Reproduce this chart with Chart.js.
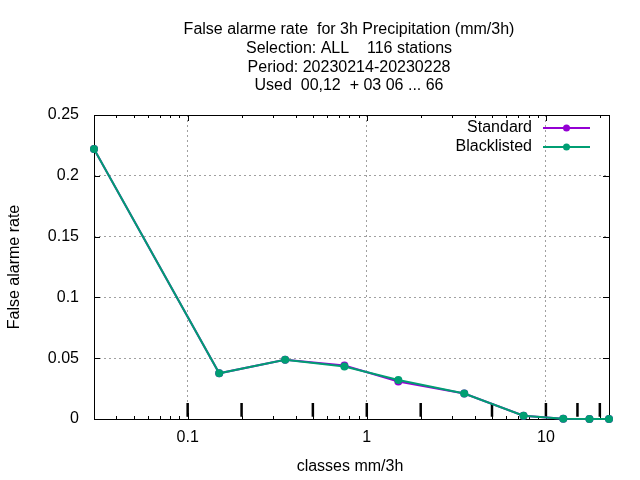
<!DOCTYPE html>
<html>
<head>
<meta charset="utf-8">
<script src="https://cdn.jsdelivr.net/npm/chart.js@4"></script>
<style>
html,body{margin:0;padding:0;background:#fff;}
#wrap{width:640px;height:480px;}
</style>
</head>
<body>
<div id="wrap"><canvas id="c" width="640" height="480"></canvas></div>
<script>
const titleLines = [
  "False alarme rate  for 3h Precipitation (mm/3h)",
  "Selection: ALL    116 stations",
  "Period: 20230214-20230228",
  "Used  00,12  + 03 06 ... 66"
];
const xTitle = "classes mm/3h";
const yTitle = "False alarme rate";
const classes = [0.03, 0.15, 0.35, 0.75, 1.5, 3.5, 7.5, 12.5, 17.5, 22.5];
const standard = [0.222, 0.0376, 0.0488, 0.0440, 0.0308, 0.0210, 0.0027, 0.0003, 0, 0];
const blacklisted = [0.222, 0.0376, 0.0488, 0.0432, 0.0320, 0.0210, 0.0027, 0.0003, 0, 0];
const boundaries = [0.1, 0.2, 0.5, 1, 2, 5, 10, 15, 20];
const boundaryLow = 0.0019;
const boundaryHigh = 0.0132;
const xMajorTicks = [0.1, 1, 10];
const yTicks = [0, 0.05, 0.1, 0.15, 0.2, 0.25];
const seriesNames = ["Standard", "Blacklisted"];

const FONT = "Liberation Sans, Arial, sans-serif";
const colStd = "#9400d3";
const colBl = "#009e73";

function pts(xs, ys){ return xs.map((x,i)=>({x:x, y:ys[i]})); }
const boundaryData = [];
boundaries.forEach(b=>{
  boundaryData.push({x:b, y:boundaryLow});
  boundaryData.push({x:b, y:boundaryHigh});
  boundaryData.push({x:b, y:null});
});

const framePlugin = {
  id: 'frame',
  beforeDraw(chart){
    const ctx = chart.ctx;
    ctx.save();
    ctx.fillStyle = '#fff';
    ctx.fillRect(0,0,chart.width,chart.height);
    ctx.restore();
  },
  beforeDatasetsDraw(chart){
    const ctx = chart.ctx, a = chart.chartArea;
    const xs = chart.scales.x, ys = chart.scales.y;
    ctx.save();
    ctx.strokeStyle = '#000';
    ctx.lineWidth = 1;
    ctx.strokeRect(Math.round(a.left)+0.5, Math.round(a.top)+0.5, Math.round(a.right-a.left), Math.round(a.bottom-a.top));
    ctx.beginPath();
    const minor = [];
    for (let d = -2; d <= 1; d++) {
      for (let m = 2; m <= 9; m++) {
        const v = m * Math.pow(10, d);
        if (v > xs.min && v < xs.max) minor.push(v);
      }
    }
    xMajorTicks.forEach(v=>{
      const px = Math.round(xs.getPixelForValue(v))+0.5;
      ctx.moveTo(px, a.bottom); ctx.lineTo(px, a.bottom-6);
      ctx.moveTo(px, a.top); ctx.lineTo(px, a.top+6);
    });
    minor.forEach(v=>{
      const px = Math.round(xs.getPixelForValue(v))+0.5;
      ctx.moveTo(px, a.bottom); ctx.lineTo(px, a.bottom-3);
      ctx.moveTo(px, a.top); ctx.lineTo(px, a.top+3);
    });
    yTicks.forEach(v=>{
      const py = Math.round(ys.getPixelForValue(v))+0.5;
      ctx.moveTo(a.left, py); ctx.lineTo(a.left+6, py);
      ctx.moveTo(a.right, py); ctx.lineTo(a.right-6, py);
    });
    ctx.stroke();
    ctx.restore();
  },
  afterDraw(chart){
    const ctx = chart.ctx;
    ctx.save();
    ctx.fillStyle = '#000';
    ctx.font = '16px ' + FONT;
    ctx.textAlign = 'center';
    ctx.textBaseline = 'middle';
    titleLines.forEach((t,i)=>{ ctx.fillText(t, 349, 29.5 + i*18.8); });
    ctx.fillText(xTitle, 350, 467);
    ctx.save();
    ctx.translate(15, 267);
    ctx.rotate(-Math.PI/2);
    ctx.fillText(yTitle, 0, 0);
    ctx.restore();
    const cols = [colStd, colBl];
    seriesNames.forEach((n,i)=>{
      const y = 128 + i*19;
      ctx.textAlign = 'right';
      ctx.fillStyle = '#000';
      ctx.fillText(n, 532, y);
      ctx.strokeStyle = cols[i];
      ctx.lineWidth = 2;
      ctx.beginPath(); ctx.moveTo(543, y); ctx.lineTo(590, y); ctx.stroke();
      ctx.fillStyle = cols[i];
      ctx.beginPath(); ctx.arc(566.5, y, 3.5, 0, Math.PI*2); ctx.fill();
    });
    ctx.restore();
  }
};

new Chart(document.getElementById('c'), {
  type: 'scatter',
  data: {
    datasets: [
      { label: seriesNames[0], data: pts(classes, standard), showLine: true,
        borderColor: colStd, backgroundColor: colStd, borderWidth: 2,
        pointRadius: 4, pointBorderWidth: 0, order: 2, clip: false },
      { label: seriesNames[1], data: pts(classes, blacklisted), showLine: true,
        borderColor: colBl, backgroundColor: colBl, borderWidth: 2,
        pointRadius: 4, pointBorderWidth: 0, order: 1, clip: false },
      { label: 'bounds', data: boundaryData, showLine: true, spanGaps: false,
        borderColor: '#000', borderWidth: 2.5, pointRadius: 0, order: 3 }
    ]
  },
  options: {
    responsive: false,
    animation: false,
    events: [],
    layout: { padding: { top: 115, right: 31, left: 0, bottom: 0 } },
    plugins: { legend: { display: false }, title: { display: false }, tooltip: { enabled: false } },
    scales: {
      x: {
        type: 'logarithmic', min: 0.03, max: 22.5,
        afterBuildTicks(s){ s.ticks = xMajorTicks.map(v=>({value:v})); },
        afterFit(s){ s.height = 61; },
        ticks: { font: { family: FONT, size: 16 }, color: '#000', padding: 9, maxRotation: 0,
          callback: (v)=> String(v) },
        grid: { color: '#a0a0a0', lineWidth: 1, drawTicks: false },
        border: { display: false, dash: [2,3] }
      },
      y: {
        min: 0, max: 0.25,
        afterBuildTicks(s){ s.ticks = yTicks.map(v=>({value:v})); },
        afterFit(s){ s.width = 94; },
        ticks: { font: { family: FONT, size: 16 }, color: '#000', padding: 15,
          callback: (v)=> String(v) },
        grid: { color: (c)=> (c.tick && (c.tick.value === 0 || c.tick.value === 0.25)) ? 'rgba(0,0,0,0)' : '#a0a0a0',
          lineWidth: 1, drawTicks: false },
        border: { display: false, dash: [2,3] }
      }
    }
  },
  plugins: [framePlugin]
});
</script>
</body>
</html>
